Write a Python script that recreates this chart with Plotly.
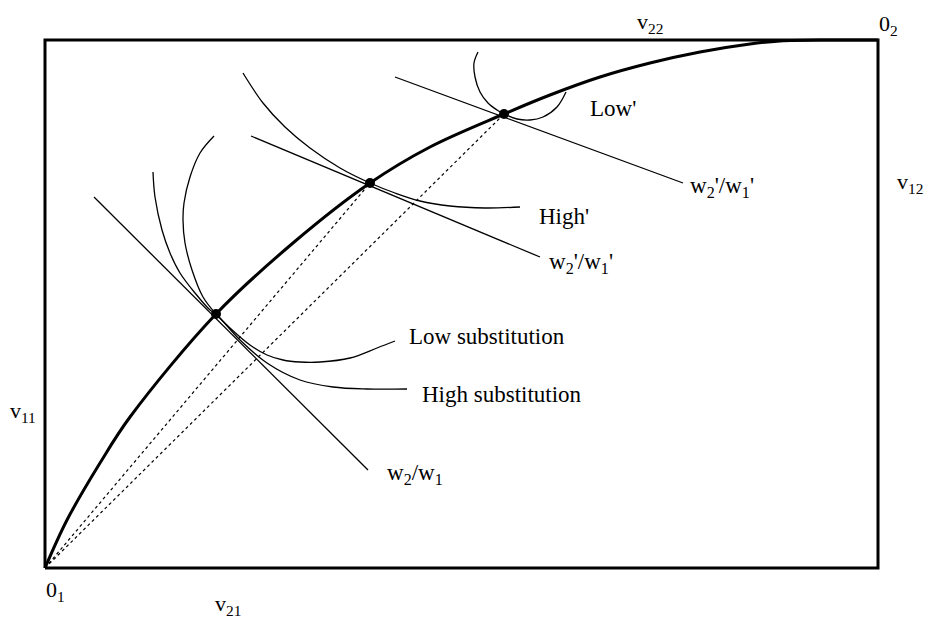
import plotly.graph_objects as go

# Box dimensions (factor units)
BOX_W = 833
BOX_H = 528

# Contract curve (efficiency locus) from 0_1 to 0_2
contract_x = [0, 22, 55, 85, 171, 248, 325, 385, 459, 505, 555, 605, 655, 705, 735, 785, 833]
contract_y = [0, 48, 105, 151, 254, 325, 385, 421, 454, 473, 491, 505, 516, 524, 527, 528, 528]

# Equilibrium points
eq_x = [171, 325, 459]
eq_y = [254, 385, 454]

# Factor-price (isocost) lines
l1_x = [49, 323]
l1_y = [371, 98]
l2_x = [206, 495]
l2_y = [432, 311]
l3_x = [350, 638]
l3_y = [491, 385]

# Isoquants
low_x = [169, 155, 145, 139, 138, 140, 147, 158, 171, 185, 205, 222, 238, 255, 275, 305, 332, 350]
low_y = [432, 415, 391, 365, 348, 325, 298, 271, 254, 240, 223, 213, 208, 206, 206, 210, 220, 227]
high_x = [108, 110, 117, 125, 135, 150, 165, 171, 195, 222, 255, 288, 322, 362]
high_y = [396, 371, 338, 315, 295, 275, 258, 254, 228, 205, 188, 181, 179, 179]
highp_x = [198, 218, 240, 265, 295, 325, 350, 375, 405, 440, 475]
highp_y = [495, 465, 441, 420, 400, 385, 375, 367, 362, 360, 361]
lowp_x = [433, 429, 430, 435, 443, 452, 459, 472, 485, 498, 512, 521]
lowp_y = [516, 505, 491, 476, 465, 458, 454, 449, 448, 451, 461, 476]

# Labels
labels = ["Low'", "High'", "w<sub>2</sub>'/w<sub>1</sub>'", "w<sub>2</sub>'/w<sub>1</sub>'",
          "Low substitution", "High substitution", "w<sub>2</sub>/w<sub>1</sub>"]
label_x = [543, 492, 643, 502, 362, 375, 340]
label_y = [460, 352, 381, 305, 232, 174, 94]

corner_labels = ["v<sub>11</sub>", "v<sub>12</sub>", "v<sub>22</sub>", "0<sub>2</sub>", "0<sub>1</sub>", "v<sub>21</sub>"]
corner_x = [-22, 865, 605, 843, 10, 183]
corner_y = [156, 385, 545, 543, -23, -37]

FONT = "Liberation Serif, Times New Roman, serif"
fig = go.Figure()

def line(x, y, width=1.3, dash=None, shape="linear"):
    fig.add_trace(go.Scatter(x=x, y=y, mode="lines", cliponaxis=False,
                             line=dict(color="black", width=width, dash=dash, shape=shape),
                             hoverinfo="skip", showlegend=False))

# Box
line([0, BOX_W, BOX_W, 0, 0], [0, 0, BOX_H, BOX_H, 0], width=3)

# dashed rays
line([0, eq_x[1]], [0, eq_y[1]], width=1.2, dash="3px,3px")
line([0, eq_x[2]], [0, eq_y[2]], width=1.2, dash="3px,3px")

# price lines
line(l1_x, l1_y)
line(l2_x, l2_y)
line(l3_x, l3_y)

# isoquants
for xs, ys in [(low_x, low_y), (high_x, high_y), (highp_x, highp_y), (lowp_x, lowp_y)]:
    line(xs, ys, width=1.3, shape="spline")

# contract curve
line(contract_x, contract_y, width=3, shape="spline")

# equilibrium dots
fig.add_trace(go.Scatter(x=eq_x, y=eq_y, mode="markers", cliponaxis=False,
                         marker=dict(color="black", size=10),
                         hoverinfo="skip", showlegend=False))

for t, x, y in zip(labels, label_x, label_y):
    fig.add_annotation(x=x, y=y, text=t, showarrow=False, xanchor="left", yanchor="middle",
                       font=dict(family=FONT, size=23, color="black"))

for t, x, y in zip(corner_labels, corner_x, corner_y):
    fig.add_annotation(x=x, y=y, text=t, showarrow=False, xanchor="center", yanchor="middle",
                       font=dict(family=FONT, size=22, color="black"))

fig.update_layout(
    width=932, height=621,
    margin=dict(l=0, r=0, t=0, b=0),
    paper_bgcolor="white", plot_bgcolor="white",
    xaxis=dict(range=[-37, 895], visible=False, fixedrange=True),
    yaxis=dict(range=[-61, 560], visible=False, fixedrange=True),
)

fig.write_html("out.html")
